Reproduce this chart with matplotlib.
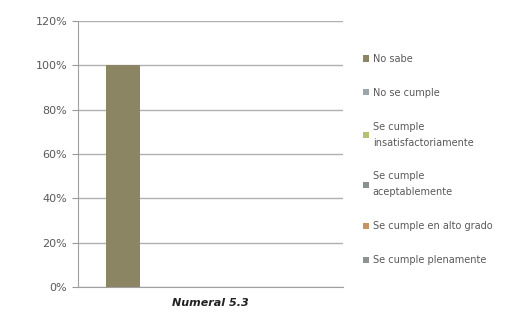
import matplotlib
matplotlib.use('Agg')
import matplotlib.pyplot as plt
import numpy as np

categories = ['Numeral 5.3']
series = ['No sabe', 'No se cumple', 'Se cumple\ninsatisfactoriamente',
          'Se cumple\naceptablemente', 'Se cumple en alto grado',
          'Se cumple plenamente']
values = [1.00, 0.0, 0.0, 0.0, 0.0, 0.0]
colors = ['#8c8563', '#9ca5aa', '#b7c06e', '#899191', '#c99461', '#8f9393']

fig = plt.figure(figsize=(5.25, 3.23), dpi=100)
ax = fig.add_axes([0.149, 0.111, 0.504, 0.824])

n = len(series)
w = 0.128
x = np.arange(len(categories))
for i, (name, v, c) in enumerate(zip(series, values, colors)):
    ax.bar(x + (i - (n - 1) / 2) * w - 0.012, [v], width=w, color=c, label=name, zorder=3)

ax.set_xlim(-0.5, 0.5)
ax.set_ylim(0, 1.2)
ax.set_yticks(np.arange(0, 1.21, 0.2))
ax.set_yticklabels(['%d%%' % round(t * 100) for t in np.arange(0, 1.21, 0.2)],
                   fontsize=8, color='#595959')
ax.set_xticks(x)
ax.set_xticklabels(categories, fontsize=8, fontweight='bold', style='italic', color='#222222')
ax.tick_params(axis='x', length=0, pad=8)
ax.tick_params(axis='y', length=4, color='#999999', pad=4)
ax.grid(axis='y', color='#b0b0b0', linewidth=1, zorder=0)
for s in ['top', 'right']:
    ax.spines[s].set_visible(False)
ax.spines['left'].set_color('#a0a0a0')
ax.spines['bottom'].set_color('#a0a0a0')

leg = fig.legend(loc='upper left', bbox_to_anchor=(0.675, 0.86), frameon=False,
                 fontsize=7, handlelength=0.6, handleheight=0.6, handletextpad=0.4,
                 labelspacing=2.45, labelcolor='#595959')
for t in leg.get_texts():
    t.set_linespacing(1.75)

fig.savefig('out.png', dpi=100)
